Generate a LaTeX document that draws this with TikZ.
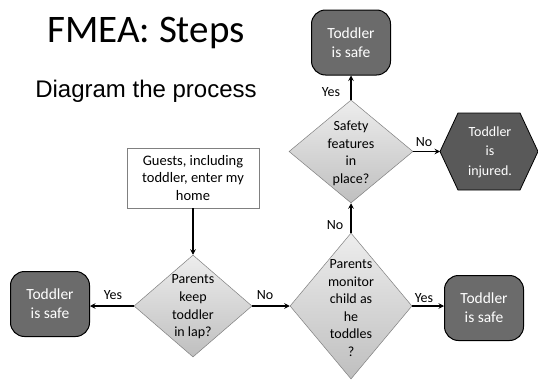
\documentclass[tikz,border=0pt]{standalone}
\usepackage{fontspec}
\setmainfont{Carlito}
\newfontfamily\arialfont{Liberation Sans}
\usetikzlibrary{shapes.geometric,arrows.meta,calc}
\definecolor{darkbox}{HTML}{6B6B6B}
\definecolor{hexfill}{HTML}{595959}
\definecolor{dtop}{HTML}{EDEDED}
\definecolor{dbot}{HTML}{BFBFBF}
\tikzset{
  safebox/.style={rectangle, rounded corners=14pt, draw=black, line width=1pt,
    fill=darkbox, text=white, minimum width=79pt, minimum height=65pt, inner sep=0pt,
    align=center, font=\fontsize{15.5}{19}\selectfont},
  decision/.style={diamond, draw=gray, line width=0.5pt, top color=dtop, bottom color=dbot,
    inner sep=0pt, shape aspect=1},
  dectext/.style={align=center, inner sep=0pt, font=\fontsize{14}{17.6}\selectfont},
  hexshape/.style={draw=black, line width=0.8pt, fill=hexfill},
  hextext/.style={align=center, inner sep=0pt, text=white, font=\fontsize{14}{19.5}\selectfont},
  lab/.style={inner sep=0pt, font=\fontsize{14}{17}\selectfont},
  conn/.style={draw=black, line width=1.2pt, -{Stealth[length=5.5pt,width=5.5pt,inset=2pt]}},
  startbox/.style={draw=gray, line width=0.8pt, minimum width=132pt, minimum height=60pt,
    align=center, inner sep=0pt, font=\fontsize{14.5}{17.5}\selectfont}
}
\begin{document}
\begin{tikzpicture}[x=1pt,y=-1pt]
\useasboundingbox[fill=white] (0,0) rectangle (538,380);

% titles
\node[anchor=base, font=\fontsize{39}{47}\selectfont, inner sep=0pt] (title) at (146,42) {FMEA: Steps};
\node[anchor=base, font=\arialfont\fontsize{24}{29}\selectfont, inner sep=0pt] (sub) at (146,97) {Diagram the process};

% start box
\node[startbox] (guests) at (193,178) {Guests, including\\toddler, enter my\\home};

% decisions
\node[decision, minimum width=118pt, minimum height=102pt] (d1) at (193,306) {};
\node[dectext] (d1t) at (193,307) {Parents\\keep\\toddler\\in lap?};

\node[decision, minimum width=122pt, minimum height=146pt] (d2) at (351,306) {};
\node[dectext] (d2t) at (351,308) {Parents\\monitor\\child as\\he\\toddles\\?};

\node[decision, minimum width=124pt, minimum height=103pt] (d3) at (351,151.5) {};
\node[dectext] (d3t) at (351,153.5) {Safety\\features\\in\\place?};

% outcomes
\node[safebox] (safeL) at (50,304) {Toddler\\is safe};
\node[safebox] (safeR) at (484,308) {Toddler\\is safe};
\node[safebox] (safeT) at (351,42.5) {Toddler\\is safe};

% hexagon
\coordinate (hexc) at (489,151.5);
\coordinate (hexw) at ($(hexc)+(-49,0)$);
\draw[hexshape] (hexw) -- ($(hexc)+(-31,-38.5)$) -- ($(hexc)+(31,-38.5)$) -- ($(hexc)+(49,0)$)
  -- ($(hexc)+(31,38.5)$) -- ($(hexc)+(-31,38.5)$) -- cycle;
\node[hextext] (hext) at (490,152) {Toddler\\is\\injured.};

% connectors
\draw[conn] (guests.south) -- (d1.north);
\draw[conn] (d1.west) -- (d1.west -| safeL.east);
\draw[conn] (d1.east) -- (d2.west);
\draw[conn] (d2.east) -- (d2.east -| safeR.west);
\draw[conn] (d2.north) -- (d3.south);
\draw[conn] (d3.north) -- (safeT.south);
\draw[conn] (d3.east) -- (hexw);

% labels
\node[lab] (lyes1) at (113,295) {Yes};
\node[lab] (lno1) at (265,295) {No};
\node[lab] (lyes2) at (424,298) {Yes};
\node[lab] (lno2) at (335,225) {No};
\node[lab] (lyes3) at (331,92) {Yes};
\node[lab] (lno3) at (424,142) {No};
\end{tikzpicture}
\end{document}
